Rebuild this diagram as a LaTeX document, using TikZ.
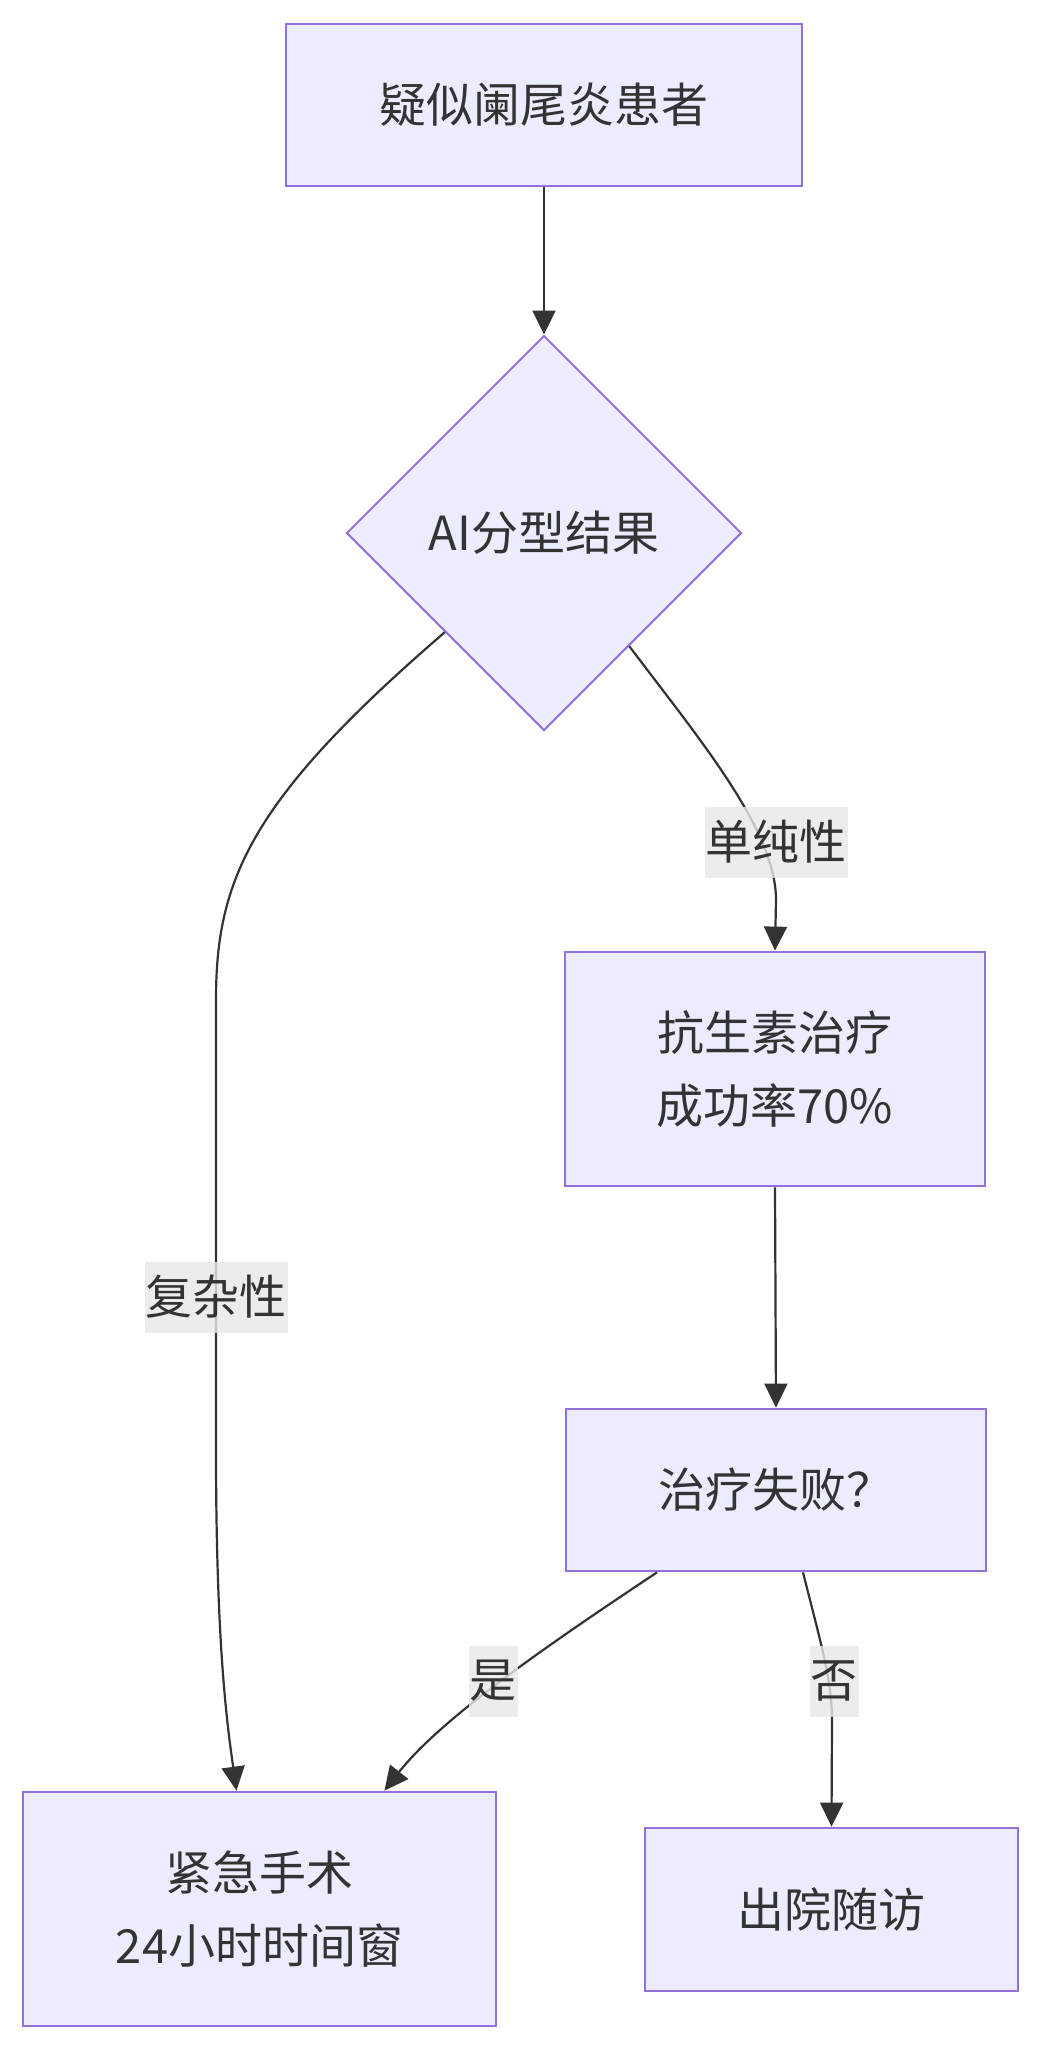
\documentclass[tikz,border=0pt]{standalone}
\usepackage{fontspec}
\setmainfont{Noto Sans CJK SC}
\usetikzlibrary{shapes.geometric,arrows.meta,calc}
\definecolor{boxfill}{HTML}{ECECFF}
\definecolor{boxline}{HTML}{9370DB}
\definecolor{ink}{HTML}{333333}
\definecolor{lblbg}{HTML}{E8E8E8}
\begin{document}
\begin{tikzpicture}[x=1pt,y=-1pt,
  every node/.style={font=\fontsize{47pt}{73pt}\selectfont, text=ink},
  flowbox/.style={draw=boxline, fill=boxfill, line width=2.8pt, align=center, inner sep=0pt},
  decision/.style={diamond, aspect=1, draw=boxline, fill=boxfill, line width=2pt, inner sep=0pt, minimum width=395pt, minimum height=395pt},
  edgelbl/.style={fill=lblbg, fill opacity=0.8, text opacity=1, inner xsep=1pt, inner ysep=0pt, minimum height=71pt},
  conn/.style={draw=ink, line width=2.2pt, -{Triangle[length=24pt,width=23pt]}}]
\useasboundingbox[fill=white] (0,0) rectangle (1040,2051);

\node[flowbox, minimum width=516pt, minimum height=162pt] (top) at (544,105) {疑似阑尾炎患者};
\node[decision] (d) at (544,533) {AI分型结果};
\node[flowbox, minimum width=420pt, minimum height=234pt] (abx) at (775,1069) {抗生素治疗\\成功率70\%};
\node[flowbox, minimum width=420pt, minimum height=162pt] (fail) at (776,1490) {治疗失败？};
\node[flowbox, minimum width=473pt, minimum height=234pt] (surg) at (259.5,1909) {紧急手术\\24小时时间窗};
\node[flowbox, minimum width=373pt, minimum height=163pt] (dis) at (831.5,1909.5) {出院随访};

\draw[conn] (top.south) -- (d.north);
\draw[conn] (d.-53) .. controls (700,740) and (776,830) .. (776,900) -- (abx.north);
\draw[conn] (d.-135) .. controls (250,800) and (216,880) .. (216,1000) -- (216,1450) .. controls (216,1650) and (228,1730) .. ($(surg.north)+(-23,0)$);
\draw[conn] (abx.south) -- (fail.north);
\draw[conn] ($(fail.south)+(-119,0)$) .. controls (540,1650) and (440,1720) .. ($(surg.north east)+(-113,0)$);
\draw[conn] ($(fail.south)+(27,0)$) .. controls (820,1640) and (832,1680) .. (832,1720) -- (dis.north);

\node[edgelbl] (l1) at (776,842) {单纯性};
\node[edgelbl] (l2) at (216,1297) {复杂性};
\node[edgelbl] (l3) at (493,1681) {是};
\node[edgelbl] (l4) at (834,1681) {否};
\end{tikzpicture}
\end{document}
